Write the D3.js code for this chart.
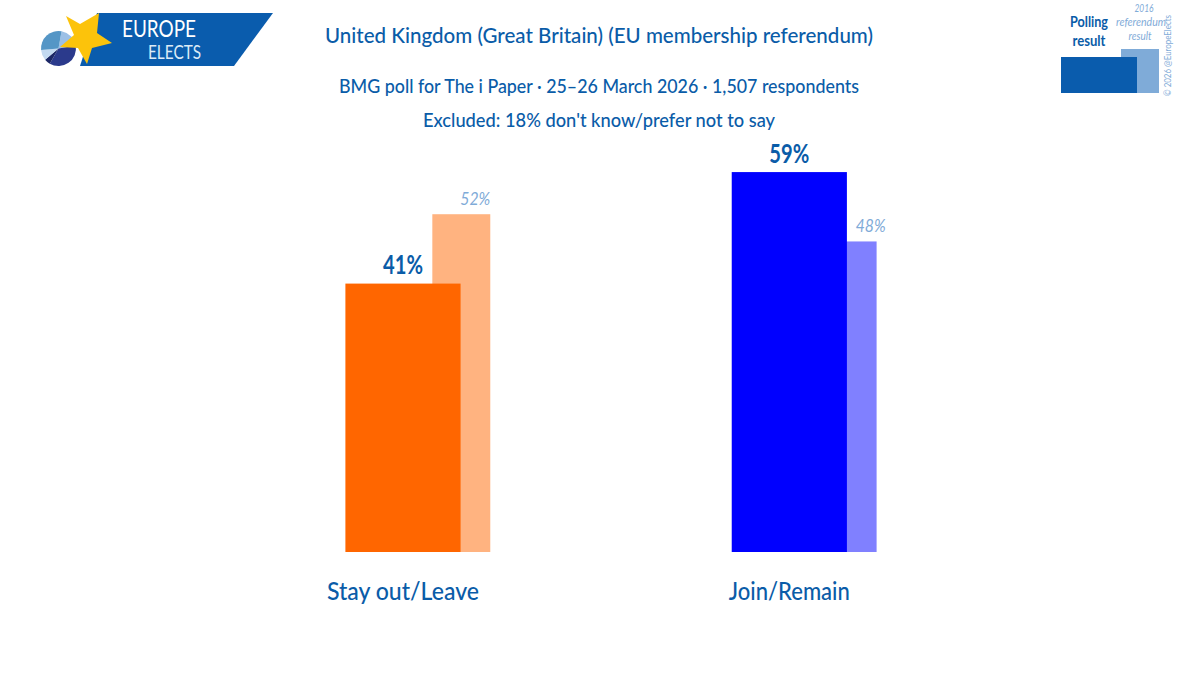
<!DOCTYPE html>
<html>
<head>
<meta charset="utf-8">
<script src="https://cdn.jsdelivr.net/npm/d3@7"></script>
<style>
html, body { margin: 0; padding: 0; background: #fff; }
svg { display: block; }
text { font-family: Lato, "Noto Sans", sans-serif; }
</style>
</head>
<body>
<svg id="chart" width="1199" height="691"></svg>
<script>
// values
const categories = ["Stay out/Leave", "Join/Remain"]
const pollValues = [41.4, 58.6]
const resultValues = [52.1, 47.9]
const pollColors = ["#ff6600", "#0000ff"]
const resultColors = ["#ffb380", "#8080ff"]
const resultLabelShift = [14, 23]
const categoryWidths = [152, 121]
const logoSlices = [70, 130, 20, 35, 105]
const logoColors = ["#9cc0e6", "#2b3a8c", "#1c2766", "#c3d9f0", "#5596c6"]

const blue = "#0a5ca8"
const paleBlue = "#7fabd8"
const svg = d3.select("#chart")

const y = d3.scaleLinear().domain([0, 60]).range([552, 163])
const x = d3.scaleBand().domain(categories).range([345.4, 876.6]).paddingInner(0.625).paddingOuter(0)
const pollWidth = x.bandwidth() * 0.795
const resultOffset = x.bandwidth() * 0.6
const resultWidth = x.bandwidth() * 0.4

function label(txt, px, py, size, opts) {
    opts = opts || {}
    const t = svg.append("text")
        .attr("x", px)
        .attr("y", py)
        .attr("text-anchor", "middle")
        .attr("font-size", size)
        .attr("font-weight", opts.weight || 500)
        .attr("font-style", opts.italic ? "italic" : "normal")
        .attr("fill", opts.color || blue)
        .text(txt)
    if (opts.len) {
        t.attr("textLength", opts.len).attr("lengthAdjust", "spacingAndGlyphs")
    }
    return t
}

// bars, 2016 result goes behind the poll bar
categories.forEach((c, i) => {
    svg.append("rect")
        .attr("x", x(c) + resultOffset)
        .attr("y", y(resultValues[i]))
        .attr("width", resultWidth)
        .attr("height", y(0) - y(resultValues[i]))
        .attr("fill", resultColors[i])
    svg.append("rect")
        .attr("x", x(c))
        .attr("y", y(pollValues[i]))
        .attr("width", pollWidth)
        .attr("height", y(0) - y(pollValues[i]))
        .attr("fill", pollColors[i])

    const mid = x(c) + pollWidth / 2
    label(d3.format(".0f")(pollValues[i]) + "%", mid, y(pollValues[i]) - 9.5, 27, {weight: 700, len: 40})
    label(d3.format(".0f")(resultValues[i]) + "%", x(c) + resultOffset + resultWidth / 2 + resultLabelShift[i], y(resultValues[i]) - 9, 17, {italic: true, weight: 400, color: paleBlue, len: 30})
    label(c, mid, 600, 25, {len: categoryWidths[i]})
})

// titles
label("United Kingdom (Great Britain) (EU membership referendum)", 599, 43, 22, {len: 548})
label("BMG poll for The i Paper · 25–26 March 2026 · 1,507 respondents", 599, 93, 19, {len: 520})
label("Excluded: 18% don't know/prefer not to say", 599, 127, 19, {len: 352})

// logo
const logo = svg.append("g")
logo.append("polygon")
    .attr("points", "97,13 273,13 234,66 80,66")
    .attr("fill", "#0a5cad")
const pie = d3.pie().sort(null).startAngle(10 * Math.PI / 180).endAngle(370 * Math.PI / 180)
const arc = d3.arc().innerRadius(0).outerRadius(17.5)
logo.append("g")
    .attr("transform", "translate(58.5,48.5)")
    .selectAll("path")
    .data(pie(logoSlices))
    .join("path")
    .attr("d", arc)
    .attr("fill", (d, i) => logoColors[i])
logo.append("polygon")
    .attr("points", "66,16 80,24 99,13 97,33 112,43 92,48 87,64 78,48 60,47 74,35")
    .attr("fill", "#fcc30b")
logo.append("text")
    .attr("x", 122).attr("y", 37)
    .attr("font-size", 24).attr("font-weight", 400).attr("fill", "#fff")
    .attr("textLength", 74).attr("lengthAdjust", "spacingAndGlyphs")
    .text("EUROPE")
logo.append("text")
    .attr("x", 148).attr("y", 59)
    .attr("font-size", 19).attr("font-weight", 400).attr("fill", "#dcebf7")
    .attr("textLength", 53).attr("lengthAdjust", "spacingAndGlyphs")
    .text("ELECTS")

// legend box top right
svg.append("rect").attr("x", 1121).attr("y", 49).attr("width", 38).attr("height", 44).attr("fill", paleBlue)
svg.append("rect").attr("x", 1061).attr("y", 57).attr("width", 76).attr("height", 36).attr("fill", "#0a5cad")
label("Polling", 1089, 27, 16, {weight: 700, len: 38})
label("result", 1089, 46, 16, {weight: 700, len: 33})
label("2016", 1144, 12, 12, {italic: true, weight: 400, color: paleBlue, len: 19})
label("referendum", 1141, 26, 12, {italic: true, weight: 400, color: paleBlue, len: 50})
label("result", 1140, 40, 12, {italic: true, weight: 400, color: paleBlue, len: 23})
svg.append("text")
    .attr("transform", "translate(1171,96) rotate(-90)")
    .attr("font-size", 10)
    .attr("fill", paleBlue)
    .attr("textLength", 81)
    .attr("lengthAdjust", "spacingAndGlyphs")
    .text("© 2026 @EuropeElects")
</script>
</body>
</html>
